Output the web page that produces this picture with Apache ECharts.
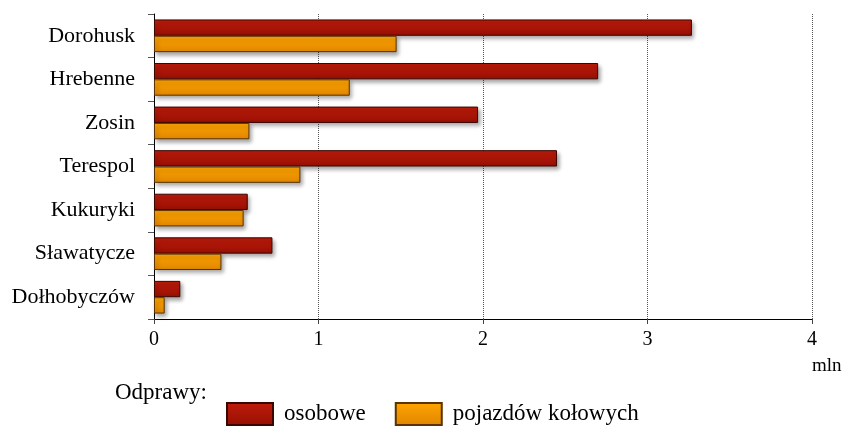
<!DOCTYPE html>
<html>
<head>
<meta charset="utf-8">
<script src="https://cdn.jsdelivr.net/npm/echarts@6/dist/echarts.min.js"></script>
<style>html,body{margin:0;padding:0;background:#fff}#c{width:843px;height:427px}</style>
</head>
<body>
<div id="c"></div>
<script>
const categories = ["Dorohusk", "Hrebenne", "Zosin", "Terespol", "Kukuryki", "Sławatycze", "Dołhobyczów"];
const osobowe = [3.27, 2.70, 1.97, 2.45, 0.57, 0.72, 0.16];
const pojazdow = [1.475, 1.19, 0.58, 0.89, 0.545, 0.41, 0.065];
const xTicks = [0, 1, 2, 3, 4];
const seriesNames = ["osobowe", "pojazdów kołowych"];

const font = "'Liberation Serif', 'DejaVu Serif', serif";
const redGrad = new echarts.graphic.LinearGradient(0, 0, 0, 1, [
  {offset: 0, color: '#c01c0a'}, {offset: 1, color: '#960f04'}]);
const orGrad = new echarts.graphic.LinearGradient(0, 0, 0, 1, [
  {offset: 0, color: '#ffa500'}, {offset: 1, color: '#e08600'}]);

const chart = echarts.init(document.getElementById('c'));
chart.setOption({
  animation: false,
  grid: {left: 154, right: 31, top: 14, bottom: 108, containLabel: false},
  xAxis: {
    type: 'value', min: xTicks[0], max: xTicks[xTicks.length - 1], interval: 1,
    axisLine: {show: true, lineStyle: {color: '#000', width: 1}},
    axisTick: {show: true, length: 5, lineStyle: {color: '#444'}},
    axisLabel: {color: '#000', fontFamily: font, fontSize: 20, margin: 11},
    splitLine: {show: true, lineStyle: {color: '#555', type: [1, 1], width: 1}}
  },
  yAxis: {
    type: 'category', data: categories, inverse: true,
    axisLine: {show: true, lineStyle: {color: '#000', width: 1}},
    axisTick: {show: true, length: 6, lineStyle: {color: '#555'}},
    axisLabel: {color: '#000', fontFamily: font, fontSize: 22, margin: 19},
    splitLine: {show: false}
  },
  legend: {
    left: 226, top: 402, padding: 0, itemWidth: 46, itemHeight: 22, itemGap: 29,
    icon: 'rect',
    data: seriesNames,
    textStyle: {fontFamily: font, fontSize: 23, color: '#000', padding: [9, 0, 0, 6]}
  },
  graphic: [
    {type: 'text', left: 115, top: 381, style: {text: 'Odprawy:', font: '23px ' + font, fill: '#000'}},
    {type: 'text', left: 812, top: 357, style: {text: 'mln', font: '19px ' + font, fill: '#000'}}
  ],
  series: [
    {
      name: seriesNames[0], type: 'bar', data: osobowe,
      barGap: '0%', barCategoryGap: '25%',
      itemStyle: {color: redGrad, borderColor: '#3a0600', borderWidth: 1,
        shadowColor: 'rgba(0,0,0,0.35)', shadowBlur: 4, shadowOffsetX: 2, shadowOffsetY: 3}
    },
    {
      name: seriesNames[1], type: 'bar', data: pojazdow,
      barGap: '0%', barCategoryGap: '25%',
      itemStyle: {color: orGrad, borderColor: '#5a3300', borderWidth: 1,
        shadowColor: 'rgba(0,0,0,0.35)', shadowBlur: 4, shadowOffsetX: 2, shadowOffsetY: 3}
    }
  ]
});
</script>
</body>
</html>
